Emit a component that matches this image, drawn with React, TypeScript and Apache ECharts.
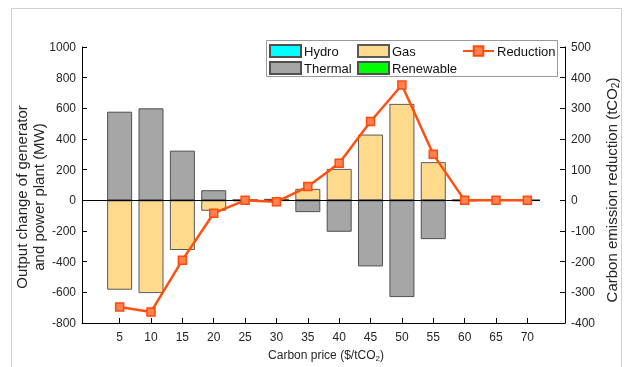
import React, { useEffect, useRef } from "react";
import * as echarts from "echarts";

const categories = [5, 10, 15, 20, 25, 30, 35, 40, 45, 50, 55, 60, 65, 70];
const hydro = [0, 0, 0, 0, 0, 0, 0, 0, 0, 0, 0, 0, 0, 0];
const thermal = [578, 600, 324, 66, -5, 10, -77, -205, -431, -631, -253, -5, 0, -3];
const gas = [-583, -605, -324, -68, 3, -3, 75, 205, 429, 629, 249, 2, 0, 0];
const renewable = [0, 0, 0, 0, 0, 0, 0, 0, 0, 0, 0, 0, 0, 0];
const reduction = [-348, -364, -195, -42, 0, -5, 45, 121, 257, 376, 150, 0, 0, 0];

const FONT = "'Liberation Sans', Arial, sans-serif";
const TXT = "#262626";

export default function App() {
  const ref = useRef<HTMLDivElement>(null);
  useEffect(() => {
    if (!ref.current) return;
    const chart = echarts.init(ref.current, null, { renderer: "svg" });
    const pair = (arr: number[]) => categories.map((c, i) => [c, arr[i]]);
    const barBase = {
      type: "bar",
      stack: "out",
      barWidth: 25,
      xAxisIndex: 0,
      yAxisIndex: 0,
    };
    const legendItem = (name: string, left: number, top: number, iconRect: boolean) => ({
      data: [name],
      left,
      top,
      padding: 0,
      itemWidth: 31,
      itemHeight: 12,
      itemGap: 0,
      ...(iconRect ? { icon: "rect" } : {}),
      textStyle: { fontFamily: FONT, fontSize: 13, color: "#111", lineHeight: 14, padding: [0, 0, 0, -2] },
    });
    const plain = (v: number) => String(v);
    chart.setOption({
      animation: false,
      textStyle: { fontFamily: FONT },
      grid: { left: 82, right: 60, top: 47, bottom: 44 },
      legend: [
        legendItem("Hydro", 269, 44, true),
        legendItem("Thermal", 269, 61, true),
        legendItem("Gas", 357, 44, true),
        legendItem("Renewable", 357, 61, true),
        legendItem("Reduction", 462, 44, false),
      ],
      xAxis: {
        type: "value",
        min: -1,
        max: 76,
        splitLine: { show: false },
        axisLine: { show: true, onZero: false, lineStyle: { color: "#000", width: 1 } },
        axisTick: { show: true, inside: true, length: 5, customValues: categories, lineStyle: { color: "#000" } },
        axisLabel: { customValues: categories, fontSize: 12, color: TXT, margin: 8, fontFamily: FONT, formatter: plain },
      },
      yAxis: [
        {
          type: "value",
          min: -800,
          max: 1000,
          interval: 200,
          splitLine: { show: false },
          axisLine: { show: true, onZero: false, lineStyle: { color: "#000", width: 1 } },
          axisTick: { show: true, inside: true, length: 5, lineStyle: { color: "#000" } },
          axisLabel: { fontSize: 12, color: TXT, margin: 6, fontFamily: FONT, formatter: plain },
        },
        {
          type: "value",
          position: "right",
          min: -400,
          max: 500,
          interval: 100,
          splitLine: { show: false },
          axisLine: { show: true, onZero: false, lineStyle: { color: "#000", width: 1 } },
          axisTick: { show: true, inside: true, length: 5, lineStyle: { color: "#000" } },
          axisLabel: { fontSize: 12, color: TXT, margin: 6, fontFamily: FONT, formatter: plain },
        },
      ],
      series: [
        {
          ...barBase,
          name: "Hydro",
          data: pair(hydro),
          itemStyle: { color: "#00FFFF", borderColor: "#505050", borderWidth: 1 },
          markLine: {
            silent: true,
            symbol: "none",
            label: { show: false },
            lineStyle: { color: "#000", width: 1, type: "solid" },
            data: [[{ coord: [-1, 0] }, { coord: [72, 0] }]],
          },
        },
        {
          ...barBase,
          name: "Thermal",
          data: pair(thermal),
          itemStyle: { color: "#A6A6A6", borderColor: "#505050", borderWidth: 1 },
        },
        {
          ...barBase,
          name: "Gas",
          data: pair(gas),
          itemStyle: { color: "#FFD98C", borderColor: "#5a5a5a", borderWidth: 1 },
        },
        {
          ...barBase,
          name: "Renewable",
          data: pair(renewable),
          itemStyle: { color: "#00FF00", borderColor: "#505050", borderWidth: 1 },
        },
        {
          type: "line",
          name: "Reduction",
          yAxisIndex: 1,
          data: pair(reduction),
          symbol: "rect",
          symbolSize: 8,
          z: 5,
          lineStyle: { color: "#FF5010", width: 2.5 },
          itemStyle: { color: "#FF8050", borderColor: "#FF4A0A", borderWidth: 1.5 },
        },
      ],
      graphic: [
        {
          type: "rect",
          silent: true,
          z: -10,
          shape: { x: 11.5, y: 8.5, width: 610, height: 400 },
          style: { fill: "none", stroke: "#d0d0d0", lineWidth: 1 },
        },
        {
          type: "rect",
          silent: true,
          z: -1,
          shape: { x: 266.5, y: 40.5, width: 291, height: 36 },
          style: { fill: "#fff", stroke: "#9a9a9a", lineWidth: 1 },
        },
        {
          type: "text",
          x: 30,
          y: 197,
          rotation: Math.PI / 2,
          style: {
            text: "Output change of generator\nand power plant (MW)",
            font: `15px ${FONT}`,
            fill: TXT,
            align: "center",
            verticalAlign: "middle",
            lineHeight: 17,
          },
        },
        {
          type: "text",
          x: 611,
          y: 190,
          rotation: Math.PI / 2,
          style: {
            text: "{a|Carbon emission reduction (tCO}{s|2}{a|)}",
            align: "center",
            verticalAlign: "middle",
            rich: {
              a: { fontSize: 15, fontFamily: FONT, fill: TXT, lineHeight: 17 },
              s: { fontSize: 10, fontFamily: FONT, fill: TXT, padding: [9, 0, 0, 0] },
            },
          },
        },
        {
          type: "text",
          x: 326,
          y: 355,
          style: {
            text: "{a|Carbon price ($/tCO}{s|2}{a|)}",
            align: "center",
            verticalAlign: "middle",
            rich: {
              a: { fontSize: 12, fontFamily: FONT, fill: TXT, lineHeight: 14 },
              s: { fontSize: 8, fontFamily: FONT, fill: TXT, padding: [7, 0, 0, 0] },
            },
          },
        },
      ],
    });
    return () => chart.dispose();
  }, []);
  return <div ref={ref} style={{ position: "fixed", left: 0, top: 0, width: 625, height: 367 }} />;
}
